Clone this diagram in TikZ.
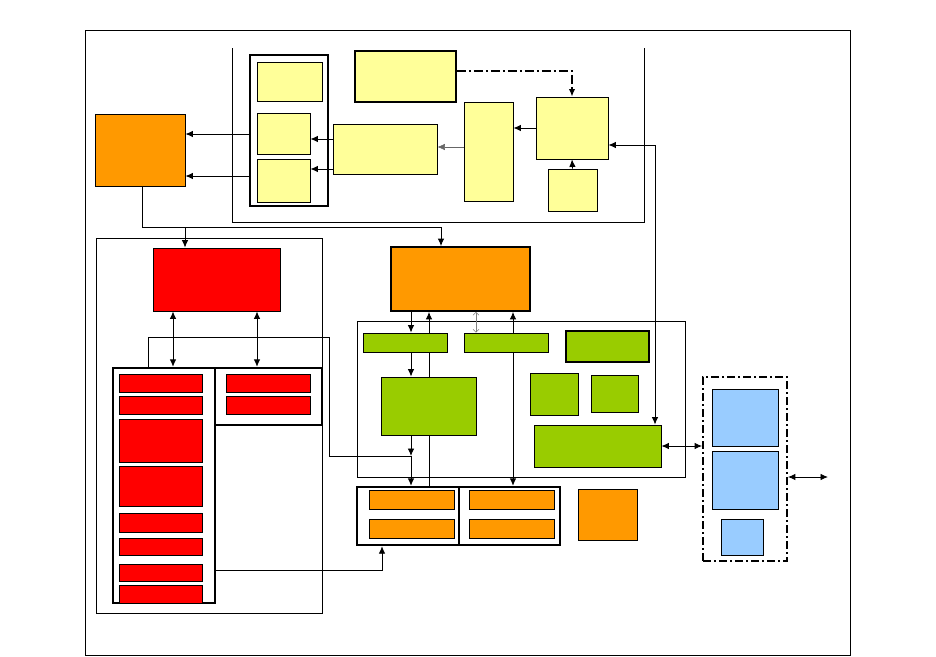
\documentclass[tikz,border=0pt]{standalone}
\usetikzlibrary{arrows.meta,backgrounds}

\definecolor{ylw}{HTML}{FFFF99}
\definecolor{org}{HTML}{FF9900}
\definecolor{rd}{HTML}{FF0000}
\definecolor{grn}{HTML}{99CC00}
\definecolor{blu}{HTML}{99CCFF}

\begin{document}
\begin{tikzpicture}[
  x = 1pt, y = -1pt,
  > = {Latex[length=7.5pt,width=6.5pt]},
  every node/.style = {draw, inner sep=0pt, line width=0.8pt},
  sz/.style 2 args = {minimum width=#1pt, minimum height=#2pt},
  ybox/.style = {fill=ylw},
  obox/.style = {fill=org},
  rbox/.style = {fill=rd},
  gbox/.style = {fill=grn},
  bbox/.style = {fill=blu},
  grp/.style = {line width=2.4pt},
  heavy/.style = {line width=1.8pt},
  dashgrp/.style = {line width=1.8pt, dash pattern=on 8pt off 3pt on 2pt off 3pt},
  wall/.style = {draw, line width=0.8pt},
  link/.style = {draw, line width=0.9pt},
  faint/.style = {draw, gray, line width=0.5pt},
  dashdot/.style = {draw, line width=2pt, dash pattern=on 9pt off 3pt on 2pt off 3pt},
]
\useasboundingbox (0,0) rectangle (936,656);

% containers
\draw[wall] (85,30) rectangle (850,655);
\draw[wall] (232,48) |- (644,222) -- (644,48);
\draw[wall] (96,238) rectangle (322,613);
\draw[wall] (357,321) rectangle (685,477);

% yellow part
\node[grp, sz={78}{151}]        (ygrp)   at (289,130.5) {};
\node[ybox, sz={65}{39}]        (ya)     at (289.5,81.5) {};
\node[ybox, sz={53}{41}]        (yb)     at (283.5,133.5) {};
\node[ybox, sz={53}{43}]        (yc)     at (283.5,180.5) {};
\node[ybox, heavy, sz={101}{51}] (ytop)  at (405.5,76.5) {};
\node[ybox, sz={104}{50}]       (ymid)   at (385,149) {};
\node[ybox, sz={49}{99}]        (ytall)  at (488.5,151.5) {};
\node[ybox, sz={72}{62}]        (yright) at (572,128) {};
\node[ybox, sz={49}{42}]        (ysmall) at (572.5,190) {};

% orange part
\node[obox, sz={90}{72}]         (oleft) at (140,150) {};
\node[obox, heavy, sz={139}{64}] (omid)  at (460.5,279) {};
\node[grp, sz={102}{58}]         (ogl)   at (408,516) {};
\node[grp, sz={101}{58}]         (ogr)   at (509.5,516) {};
\foreach \n/\x/\y in {1/411.5/499.5, 2/411.5/528.5, 3/512/499.5, 4/512/528.5}
  \node[obox, sz={85}{19}] (o\n) at (\x,\y) {};
\node[obox, sz={59}{51}]         (osolo) at (607.5,514.5) {};

% red part
\node[rbox, sz={127}{63}] (rbig) at (216.5,279.5) {};
\node[grp, sz={102}{235}] (rgl)  at (164,485.5) {};
\node[grp, sz={107}{57}]  (rgr)  at (268.5,396.5) {};
\foreach \n/\y/\h in {1/383/18, 2/405/18, 3/440.5/43, 4/486/40,
                      5/522.5/19, 6/546.5/17, 7/572.5/17, 8/594/18}
  \node[rbox, sz={83}{\h}] (r\n) at (160.5,\y) {};
\foreach \n/\y in {1/383, 2/405}
  \node[rbox, sz={84}{18}] (rr\n) at (268,\y) {};

% green part
\node[gbox, sz={84}{19}]        (g1) at (405,342.5) {};
\node[gbox, sz={84}{19}]        (g2) at (506,342.5) {};
\node[gbox, heavy, sz={83}{31}] (g3) at (607.5,346.5) {};
\node[gbox, sz={95}{58}]        (g4) at (428.5,406) {};
\node[gbox, sz={48}{42}]        (g5) at (554,394) {};
\node[gbox, sz={47}{37}]        (g6) at (614.5,393.5) {};
\node[gbox, sz={127}{42}]       (g7) at (597.5,446) {};

% blue part
\node[dashgrp, sz={84}{184}] (bgrp) at (745,469) {};
\node[bbox, sz={66}{57}]     (b1)   at (745,417.5) {};
\node[bbox, sz={66}{58}]     (b2)   at (745,480) {};
\node[bbox, sz={42}{36}]     (b3)   at (742,537) {};

\coordinate (split) at (185,227);
\coordinate (join)  at (411,456);
\coordinate (out)   at (828,477);

% links
\draw[dashdot, ->] (ytop.east |- 0,71) -| (yright.north);
\draw[link, ->] (yright.west) -- (ytall.east |- yright.west);
\draw[faint, ->, black!60] (ytall.west |- 0,147) -- (ymid.east |- 0,147);
\draw[link, ->] (ymid.west |- 0,139) -- (yb.east |- 0,139);
\draw[link, ->] (ymid.west |- 0,169) -- (yc.east |- 0,169);
\draw[link, ->] (ysmall.north) -- (yright.south);
\draw[link, <->] (yright.east |- 0,145) -| (g7.north -| 655,0);
\draw[link, ->] (ygrp.west |- 0,134) -- (oleft.east |- 0,134);
\draw[link, ->] (ygrp.west |- 0,176) -- (oleft.east |- 0,176);

\draw[link, ->] (oleft.south -| 142,0) |- (441,227) -- (omid.north -| 441,0);
\draw[link, ->] (split) -- (rbig.north -| split);
\draw[link, <->] (rbig.south -| 173,0) -- (rgl.north -| 173,0);
\draw[link, <->] (rbig.south -| 257,0) -- (rgr.north -| 257,0);
\draw[link] (rgl.north -| 148,0) |- (329,337) |- (join);
\draw[link, ->] (rgl.east |- 0,570) -| (ogl.south -| 382,0);

\draw[link, ->] (omid.south -| 411,0) -- (g1.north -| 411,0);
\draw[link, ->] (g1.south -| 411,0) -- (g4.north -| 411,0);
\draw[link, ->] (g4.south -| 411,0) -- (join);
\draw[link, ->] (join) -- (ogl.north -| join);
\draw[faint, {Straight Barb[length=3pt]}-{Straight Barb[length=3pt]}]
  (omid.south -| 476,0) -- (g2.north -| 476,0);
\draw[link, <->] (g7.east) -- (bgrp.west |- g7.east);
\draw[link, <->] (bgrp.east |- out) -- (out);

\begin{scope}[on background layer]
  \draw[link, ->] (ogl.north -| 429,0) -- (omid.south -| 429,0);
  \draw[link, <->] (ogr.north -| 513,0) -- (omid.south -| 513,0);
\end{scope}

\end{tikzpicture}
\end{document}
